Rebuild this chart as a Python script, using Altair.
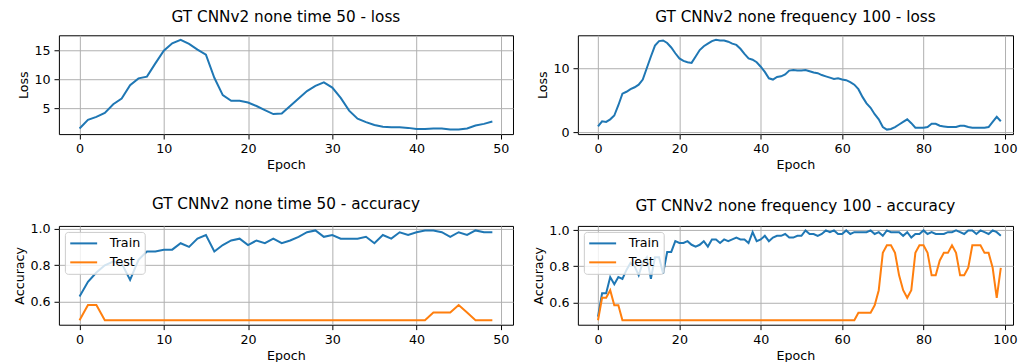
import altair as alt
import pandas as pd

# ---------------- data ----------------
loss_time = [1.5, 3.0, 3.5, 4.2, 5.7, 6.7, 9.0, 10.2, 10.5, 12.8,
             15.0, 16.3, 16.9, 16.2, 15.2, 14.3, 10.3, 7.3, 6.3, 6.3,
             6.0, 5.4, 4.7, 4.0, 4.1, 5.4, 6.7, 8.0, 8.9, 9.5,
             8.6, 6.8, 4.6, 3.2, 2.6, 2.1, 1.8, 1.7, 1.7, 1.6,
             1.4, 1.4, 1.5, 1.5, 1.3, 1.3, 1.5, 2.0, 2.3, 2.7]

loss_freq = [0.9, 1.7, 1.6, 2.0, 2.6, 4.2, 6.0, 6.3, 6.7, 7.0,
             7.4, 8.2, 10.0, 11.8, 13.5, 14.2, 14.3, 13.9, 13.2, 12.3,
             11.5, 11.1, 10.9, 10.8, 11.8, 12.8, 13.4, 13.8, 14.2, 14.4,
             14.3, 14.3, 14.1, 13.8, 13.6, 13.0, 12.2, 11.5, 11.3, 10.9,
             10.2, 9.4, 8.4, 8.2, 8.6, 8.7, 9.0, 9.6, 9.7, 9.6,
             9.6, 9.7, 9.5, 9.3, 9.2, 8.9, 8.7, 8.5, 8.3, 8.4,
             8.2, 8.1, 7.8, 7.4, 6.7, 5.5, 4.5, 3.8, 2.8, 2.0,
             0.8, 0.4, 0.5, 0.8, 1.2, 1.6, 2.0, 1.4, 0.7, 0.7,
             0.7, 0.8, 1.3, 1.3, 1.0, 0.9, 0.8, 0.8, 0.8, 1.0,
             1.0, 0.8, 0.7, 0.7, 0.7, 0.7, 0.8, 1.6, 2.4, 1.7]

acc_time_train = [0.63, 0.71, 0.76, 0.80, 0.82, 0.81, 0.72, 0.83, 0.875, 0.875,
                  0.885, 0.885, 0.92, 0.90, 0.945, 0.965, 0.875, 0.91, 0.935, 0.945,
                  0.91, 0.935, 0.92, 0.945, 0.92, 0.935, 0.955, 0.98, 0.99, 0.955,
                  0.965, 0.945, 0.945, 0.945, 0.955, 0.92, 0.965, 0.945, 0.98, 0.965,
                  0.98, 0.99, 0.99, 0.98, 0.955, 0.98, 0.965, 0.99, 0.98, 0.98]
acc_time_test = [0.5, 0.583, 0.583] + [0.5] * 39 + [0.542, 0.542, 0.542, 0.583, 0.542, 0.5, 0.5, 0.5]

acc_freq_train = [0.52, 0.65, 0.65, 0.74, 0.70, 0.74, 0.73, 0.78, 0.82, 0.80,
                  0.75, 0.82, 0.85, 0.73, 0.85, 0.85, 0.76, 0.88, 0.88, 0.94,
                  0.93, 0.93, 0.94, 0.92, 0.91, 0.92, 0.94, 0.91, 0.95, 0.95,
                  0.93, 0.95, 0.94, 0.95, 0.96, 0.95, 0.95, 0.93, 0.99, 0.94,
                  0.95, 0.97, 0.94, 0.96, 0.97, 0.97, 0.98, 0.96, 0.96, 0.97,
                  0.97, 1.0, 0.98, 0.98, 0.97, 0.98, 1.0, 0.99, 1.0, 0.98,
                  0.98, 1.0, 0.98, 0.99, 0.99, 0.99, 0.99, 1.0, 0.98, 0.99,
                  0.97, 1.0, 0.99, 0.99, 0.99, 0.97, 0.99, 0.96, 0.98, 0.98,
                  1.0, 0.98, 0.99, 0.98, 0.98, 0.98, 0.99, 0.99, 1.0, 0.99,
                  0.98, 1.0, 1.0, 0.98, 1.0, 0.99, 0.98, 1.0, 0.99, 0.97]
acc_freq_test = ([0.5, 0.625, 0.625, 0.667, 0.583, 0.583] + [0.5] * 58 +
                 [0.542, 0.542, 0.542, 0.542, 0.583, 0.667,
                  0.875, 0.917, 0.917, 0.875, 0.75, 0.667, 0.625, 0.667, 0.875, 0.917,
                  0.917, 0.875, 0.75, 0.75, 0.833, 0.875, 0.875, 0.917, 0.875, 0.75,
                  0.75, 0.792, 0.917, 0.917, 0.917, 0.875, 0.875, 0.792, 0.625, 0.792])

titles = ["GT CNNv2 none time 50 - loss",
          "GT CNNv2 none frequency 100 - loss",
          "GT CNNv2 none time 50 - accuracy",
          "GT CNNv2 none frequency 100 - accuracy"]
series_names = ["Train", "Test"]
x_ticks_50 = [0, 10, 20, 30, 40, 50]
x_ticks_100 = [0, 20, 40, 60, 80, 100]

BLUE = "#1f77b4"
ORANGE = "#ff7f0e"
FONT = "DejaVu Sans"
LBL = 12.7
TTL = 15.3

LEFT_W, RIGHT_W, H = 455, 436, 99


def x_enc(dom, ticks):
    return alt.X("Epoch:Q", title="Epoch",
                 scale=alt.Scale(domain=dom, nice=False, zero=False),
                 axis=alt.Axis(values=ticks, format="d"))


def loss_chart(vals, dom, ticks, ydom, yticks, title, w):
    df = pd.DataFrame({"Epoch": list(range(len(vals))), "Loss": vals})
    return alt.Chart(df, title=title).mark_line(color=BLUE, strokeWidth=2, clip=True).encode(
        x=x_enc(dom, ticks),
        y=alt.Y("Loss:Q", title="Loss",
                scale=alt.Scale(domain=ydom, nice=False, zero=False),
                axis=alt.Axis(values=yticks, format="d")),
    ).properties(width=w, height=H)


def acc_chart(train, test, dom, ticks, ydom, title, w):
    n = len(train)
    df = pd.DataFrame({
        "Epoch": list(range(n)) * 2,
        "Accuracy": train + test,
        "series": [series_names[0]] * n + [series_names[1]] * n,
    })
    return alt.Chart(df, title=title).mark_line(strokeWidth=2, clip=True).encode(
        x=x_enc(dom, ticks),
        y=alt.Y("Accuracy:Q", title="Accuracy",
                scale=alt.Scale(domain=ydom, nice=False, zero=False),
                axis=alt.Axis(values=[0.6, 0.8, 1.0], format=".1f")),
        color=alt.Color("series:N", sort=series_names,
                        scale=alt.Scale(domain=series_names, range=[BLUE, ORANGE]),
                        legend=alt.Legend(title=None, orient="top-left", offset=6,
                                          padding=4, fillColor="rgba(255,255,255,0.8)",
                                          strokeColor="#cccccc", cornerRadius=3,
                                          symbolType="M-1,0H3.4", symbolSize=150,
                                          symbolStrokeWidth=2, labelFontSize=LBL,
                                          labelFont=FONT, labelColor="black",
                                          rowPadding=4, labelOffset=26)),
    ).properties(width=w, height=H)


c1 = loss_chart(loss_time, [-2.45, 51.45], x_ticks_50, [0.52, 17.68], [5, 10, 15], titles[0], LEFT_W)
c2 = loss_chart(loss_freq, [-4.95, 102.0], x_ticks_100, [-0.3, 15.1], [0, 10], titles[1], RIGHT_W)
c3 = acc_chart(acc_time_train, acc_time_test, [-2.45, 51.45], x_ticks_50, [0.4755, 1.0145], titles[2], LEFT_W)
c4 = acc_chart(acc_freq_train, acc_freq_test, [-4.95, 102.0], x_ticks_100, [0.475, 1.025], titles[3], RIGHT_W)

chart = alt.concat(c1, c2, c3, c4, columns=2, spacing={"row": 24, "column": 18}
).resolve_scale(color="independent").properties(
    padding={"left": 5, "top": 1, "right": 0, "bottom": 0}
).configure(
    font=FONT,
    background="white",
).configure_view(
    stroke="black", strokeWidth=1,
).configure_axis(
    labelFont=FONT, titleFont=FONT, labelFontSize=LBL, titleFontSize=LBL,
    labelColor="black", titleColor="black", titleFontWeight="normal",
    tickColor="black", tickSize=4.9, tickWidth=1, labelPadding=4,
    domain=False, gridColor="#b0b0b0", gridWidth=1, titlePadding=3,
).configure_title(
    font=FONT, fontSize=TTL, fontWeight="normal", color="black", offset=10,
)

chart.save("out.html", embed_options={"renderer": "svg", "actions": False})
